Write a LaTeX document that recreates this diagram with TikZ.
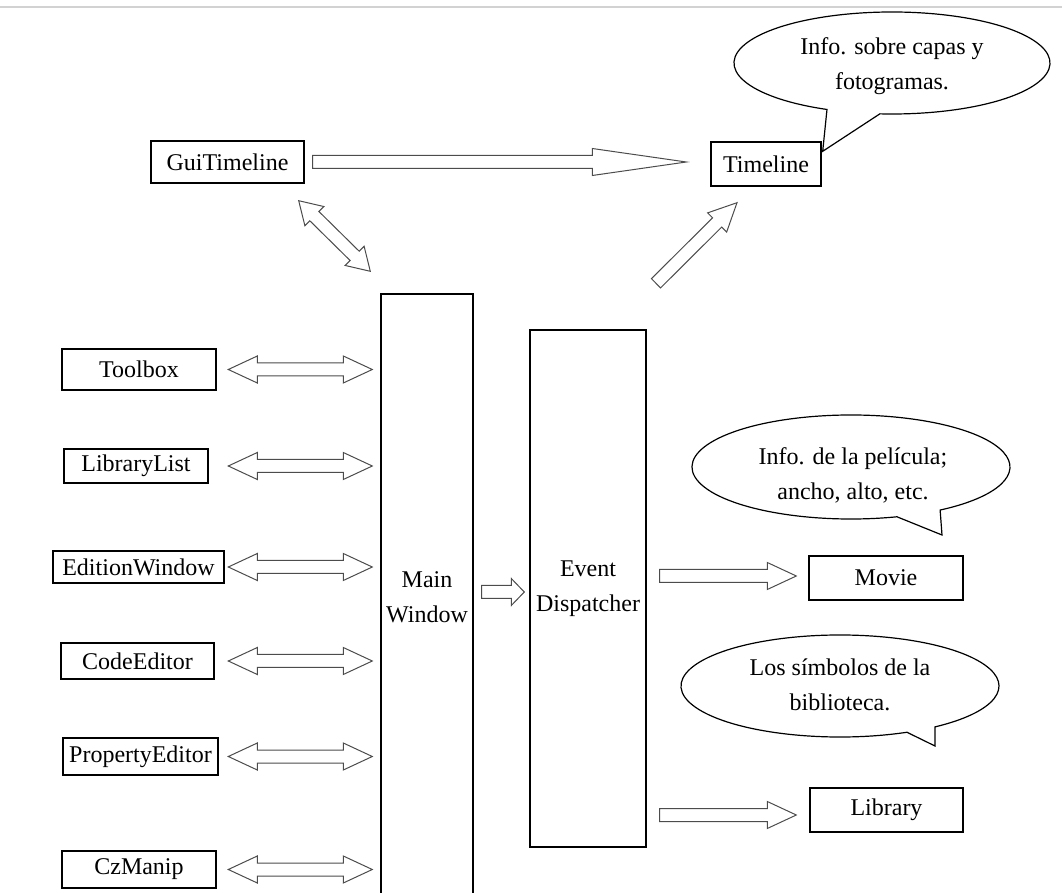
\documentclass[tikz,border=0pt]{standalone}
\usepackage{fontspec}
\setmainfont{Liberation Serif}
\usetikzlibrary{calc, positioning}

\newcommand{\shaftw}{3.25pt}
\newcommand{\headw}{6.75pt}
% block arrow: tail, tip, head length
\newcommand{\fatarrow}[3]{%
  \coordinate (hb) at ($(#2)!#3!(#1)$);
  \draw[fat] ($(#1)!\shaftw!90:(#2)$) -- ($(hb)!\shaftw!90:(#2)$) -- ($(hb)!\headw!90:(#2)$) -- (#2)
    -- ($(hb)!\headw!-90:(#2)$) -- ($(hb)!\shaftw!-90:(#2)$) -- ($(#1)!\shaftw!-90:(#2)$) -- cycle;
}
% double block arrow: tip, tip, head length
\newcommand{\fatdarrow}[3]{%
  \coordinate (ha) at ($(#1)!#3!(#2)$);
  \coordinate (hb) at ($(#2)!#3!(#1)$);
  \draw[fat] (#1) -- ($(ha)!\headw!90:(#2)$) -- ($(ha)!\shaftw!90:(#2)$) -- ($(hb)!\shaftw!90:(#2)$)
    -- ($(hb)!\headw!90:(#2)$) -- (#2) -- ($(hb)!\headw!-90:(#2)$) -- ($(hb)!\shaftw!-90:(#2)$)
    -- ($(ha)!\shaftw!-90:(#2)$) -- ($(ha)!\headw!-90:(#2)$) -- cycle;
}

\begin{document}
\begin{tikzpicture}[x=0.5pt, y=-0.5pt,
  box/.style={draw, line width=0.7pt, inner sep=0pt, align=center,
    font=\fontsize{12}{17.5}\selectfont},
  note/.style={align=center, font=\fontsize{12}{17.5}\selectfont},
  fat/.style={draw=black!70, line width=0.5pt, fill=white, line join=miter},
  bubble/.style={draw, line width=0.6pt}]
\useasboundingbox (0,0) rectangle (1062,893);
\clip (0,0) rectangle (1062,893);
\draw[gray!35, line width=0.6pt] (0,7) -- (1062,7);

% boxes
\node[box, minimum width=76.5pt, minimum height=21pt] (guitl) at (227.5,162) {GuiTimeline};
\node[box, minimum width=55pt, minimum height=22pt] (timeline) at (766,164) {Timeline};
\node[box, minimum width=77pt, minimum height=20.5pt] (toolbox) at (139,369.5) {Toolbox};
\node[box, minimum width=72pt, minimum height=17pt] (librarylist) at (136,466) {LibraryList};
\node[box, minimum width=85.5pt, minimum height=16pt] (editionwindow) at (138.5,567) {EditionWindow};
\node[box, minimum width=76.5pt, minimum height=18pt] (codeeditor) at (137.5,661) {CodeEditor};
\node[box, minimum width=77.5pt, minimum height=18.5pt] (propertyeditor) at (140.5,756.5) {PropertyEditor};
\node[box, minimum width=77pt, minimum height=18.5pt] (czmanip) at (139,869.5) {CzManip};
\node[box, minimum width=46pt, minimum height=303pt] (main) at (427,597) {Main\\Window};
\node[box, minimum width=58pt, minimum height=258.5pt] (ed) at (588,588.5) {Event\\Dispatcher};
\node[box, minimum width=77pt, minimum height=22pt] (movie) at (886,578) {Movie};
\node[box, minimum width=76.5pt, minimum height=22pt] (library) at (886.5,810) {Library};

% speech bubbles
\coordinate (tip1) at ($(timeline.north east)+(1,10)$);
\draw[bubble] (892,63) ++(114.3:158 and 51)
  arc[start angle=114.3, end angle=454.4, x radius=158, y radius=51] -- (tip1) -- cycle;
\node[note] (note1) at (892,66.5) {Info. sobre capas y\\fotogramas.};
\coordinate (tip2) at (942,535);
\draw[bubble] (851,467) ++(73.2:159 and 52)
  arc[start angle=73.2, end angle=415.9, x radius=159, y radius=52] -- (tip2) -- cycle;
\node[note] (note2) at (853,475) {Info. de la película;\\ancho, alto, etc.};
\coordinate (tip3) at (935,746);
\draw[bubble] (840,686) ++(65.1:159 and 51)
  arc[start angle=65.1, end angle=413.3, x radius=159, y radius=51] -- (tip3) -- cycle;
\node[note] (note3) at (840,684.5) {Los símbolos de la\\biblioteca.};

% arrows
\coordinate (gt1) at ($(guitl.east)+(8,0)$);
\coordinate (gt2) at ($(guitl.east -| timeline.west)+(-24,0)$);
\fatarrow{gt1}{gt2}{47pt}
\coordinate (tl1) at ($(ed.north)+(68,-46)$);
\coordinate (tl2) at ($(timeline.south)+(-29,16)$);
\fatarrow{tl1}{tl2}{14pt}
\coordinate (gm1) at ($(guitl.south east)+(-6,17)$);
\coordinate (gm2) at ($(main.north west)+(-10,-22)$);
\fatdarrow{gm1}{gm2}{11pt}
\coordinate (me1) at ($(main.east)+(8,-5)$);
\coordinate (me2) at ($(ed.west |- me1)+(-5,0)$);
\fatarrow{me1}{me2}{6.5pt}
\coordinate (em1) at ($(movie.west -| ed.east)+(13,-2)$);
\coordinate (em2) at ($(movie.west)+(-12,-2)$);
\fatarrow{em1}{em2}{14.5pt}
\coordinate (el1) at ($(library.west -| ed.east)+(13,5)$);
\coordinate (el2) at ($(library.west)+(-13,5)$);
\fatarrow{el1}{el2}{14.5pt}
\foreach \n in {toolbox,librarylist,editionwindow,codeeditor,propertyeditor,czmanip} {
  \coordinate (l-\n) at ($(\n.east -| main.west)+(-152,0)$);
  \coordinate (r-\n) at ($(\n.east -| main.west)+(-8,0)$);
  \fatdarrow{l-\n}{r-\n}{14.5pt}
}
\end{tikzpicture}
\end{document}
